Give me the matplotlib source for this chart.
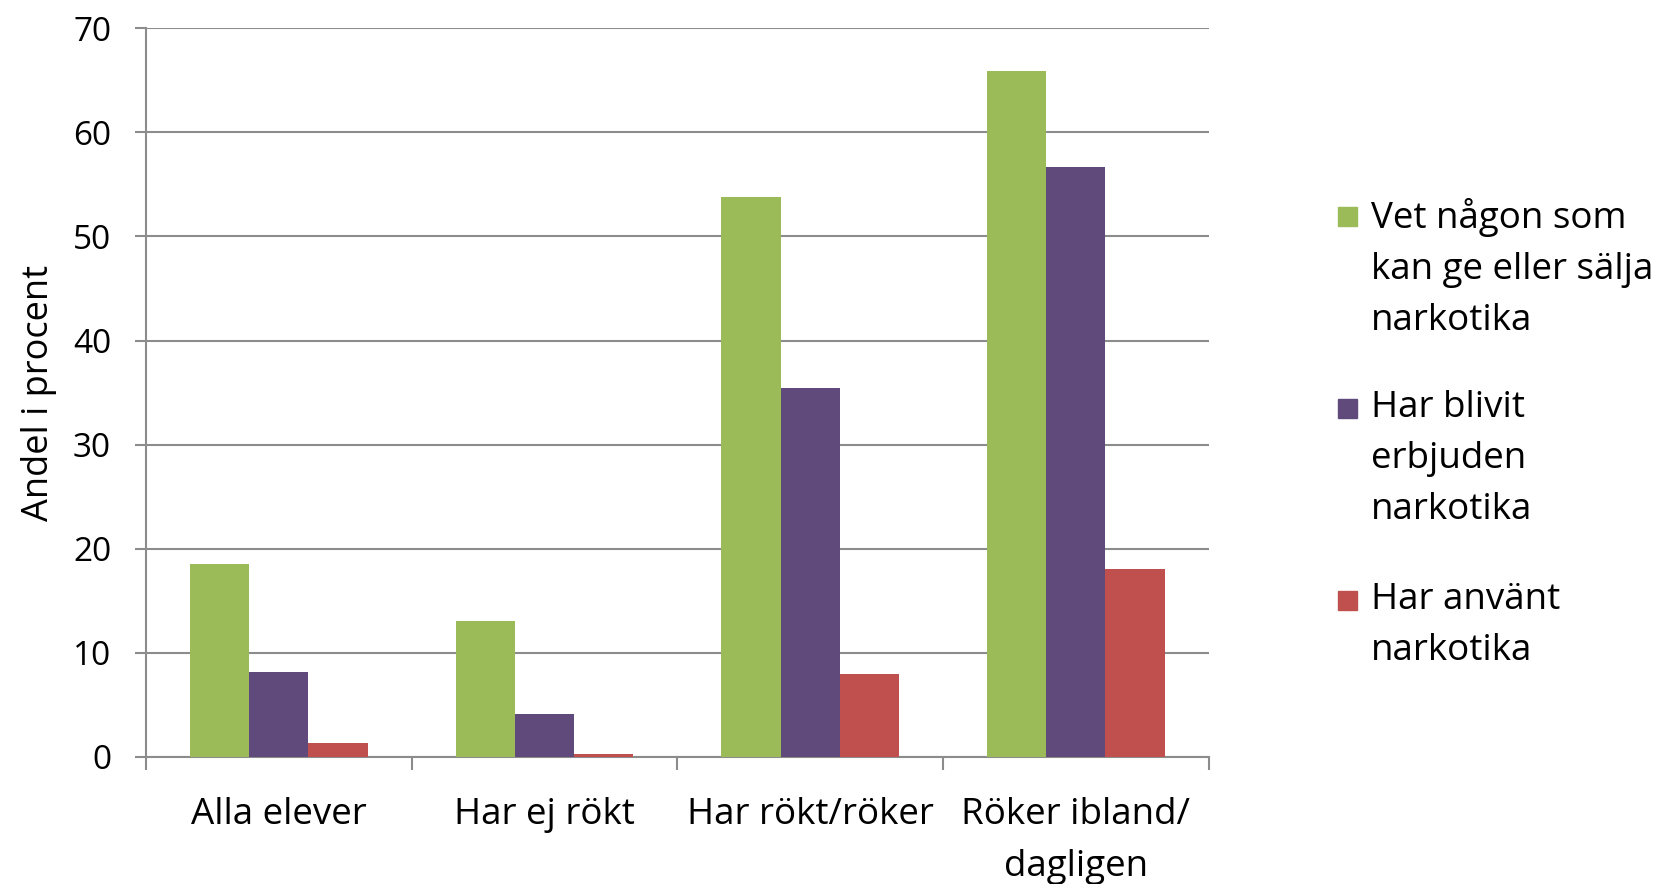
import matplotlib.pyplot as plt
import numpy as np
from matplotlib.patches import Rectangle

plt.rcParams["font.family"] = ["Open Sans", "DejaVu Sans"]

categories = ["Alla elever", "Har ej rökt", "Har rökt/röker", "Röker ibland/\ndagligen"]
series_names = [
    "Vet någon som\nkan ge eller sälja\nnarkotika",
    "Har blivit\nerbjuden\nnarkotika",
    "Har använt\nnarkotika",
]
vet_nagon = [18.5, 13.1, 53.8, 65.9]
erbjuden = [8.2, 4.1, 35.4, 56.7]
anvant = [1.3, 0.3, 8.0, 18.1]
colors = ["#9BBB59", "#604A7B", "#C0504D"]
grid_color = "#8C8C8C"

fig = plt.figure(figsize=(16.58, 8.84), dpi=100)
ax = fig.add_axes([0.088, 0.1437, 0.641, 0.8243])

x = np.arange(len(categories))
width = 0.223
for i, (vals, col) in enumerate(zip([vet_nagon, erbjuden, anvant], colors)):
    ax.bar(x + (i - 1) * width, vals, width, color=col, zorder=3)

ax.set_xlim(-0.5, len(categories) - 0.5)
ax.set_ylim(0, 70)
ax.set_yticks(range(0, 71, 10))
ax.yaxis.grid(True, color=grid_color, lw=1.5, zorder=0)

ax.set_xticks(x)
ax.set_xticklabels(categories, fontsize=26.5, linespacing=1.58)
ax.set_xticks(np.arange(-0.5, len(categories)), minor=True)
ax.tick_params(axis="x", which="major", length=0, pad=29)
ax.tick_params(axis="x", which="minor", length=9, width=1.5, color=grid_color)
ax.tick_params(axis="y", length=8, width=1.5, color=grid_color, labelsize=24, pad=17)

for side in ["top", "right"]:
    ax.spines[side].set_visible(False)
for side in ["left", "bottom"]:
    ax.spines[side].set_color(grid_color)
    ax.spines[side].set_linewidth(1.5)

ax.set_ylabel("Andel i procent", fontsize=26)
ax.yaxis.set_label_coords(-0.084, 0.5)

# legend drawn by hand so the square sits on the first text line
entry_tops = [217, 409, 601]
for name, col, yc in zip(series_names, colors, entry_tops):
    fig.patches.append(Rectangle((1338 / 1658, 1 - (yc + 9) / 884), 19 / 1658, 19 / 884,
                                 transform=fig.transFigure, color=col))
    fig.text(1371 / 1658, 1 - (yc - 19) / 884, name, fontsize=26.5, va="top",
             ha="left", linespacing=1.56)

fig.savefig("out.png", dpi=100)
